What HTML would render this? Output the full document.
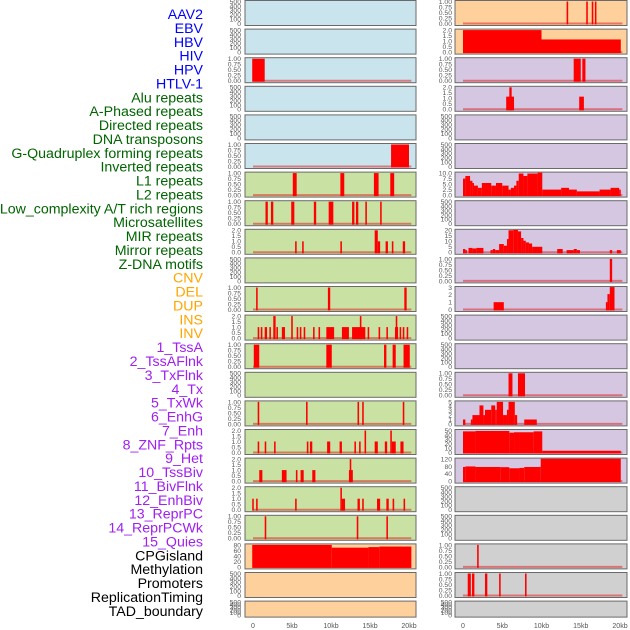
<!DOCTYPE html>
<html><head><meta charset="utf-8"><style>
body{margin:0;background:#fff;width:630px;height:630px;overflow:hidden}
svg{display:block}
</style></head><body>
<svg id="chart" width="630" height="630" xmlns="http://www.w3.org/2000/svg" font-family="Liberation Sans, sans-serif"></svg>
<script>
// ---- Row labels ----
const labels = ["AAV2","EBV","HBV","HIV","HPV","HTLV-1","Alu repeats","A-Phased repeats","Directed repeats","DNA transposons","G-Quadruplex forming repeats","Inverted repeats","L1 repeats","L2 repeats","Low_complexity A/T rich regions","Microsatellites","MIR repeats","Mirror repeats","Z-DNA motifs","CNV","DEL","DUP","INS","INV","1_TssA","2_TssAFlnk","3_TxFlnk","4_Tx","5_TxWk","6_EnhG","7_Enh","8_ZNF_Rpts","9_Het","10_TssBiv","11_BivFlnk","12_EnhBiv","13_ReprPC","14_ReprPCWk","15_Quies","CPGisland","Methylation","Promoters","ReplicationTiming","TAD_boundary"];
const labelGroups = [6,13,5,15,5];
const groupColors = ["#0000ff","#006400","#ffa500","#a020f0","#000000"];
// ---- x axis ----
const xTicks = [0,5,10,15,20];
const xTickLabels = ["0","5kb","10kb","15kb","20kb"];
// ---- y tick sets ----
const tE = ["0","100","200","300","400","500"];
const t1 = ["0.00","0.25","0.50","0.75","1.00"];
const t2 = ["0.0","0.5","1.0","1.5","2.0"];
const t10 = ["0.0","2.5","5.0","7.5","10.0"];
const t20 = ["0","5","10","15","20"];
const t3 = ["0","1","2","3"];
const t5 = ["0","1","2","3","4","5"];
const t50 = ["0","10","20","30","40","50"];
const t120 = ["0","40","80","120"];
const t80 = ["0","20","40","60","80"];
// ---- left column data: [startKb, endKb, value] ----
const L2 = [[-0.1,1.5,1]];
const L5 = [[17.7,20,1]];
const L6 = [[5.1,5.6,1],[11.2,11.7,1],[15.5,16.1,1],[17.6,18.1,1]];
const L7 = [[1.6,1.9,1],[2.3,2.6,1],[4.9,5.3,1],[7.8,8.1,1],[9.7,10.3,1],[12.7,13,1],[13.2,13.5,1],[14.4,14.6,1],[16.3,16.5,1]];
const L8 = [[5.4,5.6,1],[6.3,6.5,1],[11.2,11.4,1],[15.6,16,2],[16,16.3,1],[17,17.3,1],[17.8,18,1],[19.2,19.5,1]];
const L10 = [[0.4,0.6,1],[9.6,9.9,1],[19.4,19.7,1]];
const L11 = [[0.6,0.8,1],[1,1.2,1],[1.5,1.8,1],[2.1,2.3,1],[2.6,2.9,2],[3,3.2,1],[3.7,4.1,1],[4.9,5.1,2],[5.6,5.8,1],[6,6.2,1],[6.5,6.7,1],[7.7,7.9,1],[8.4,8.6,1],[9.4,10.4,1],[11.4,12.3,1],[12.7,14.4,1],[13.7,13.9,2],[14.7,14.9,1],[16.1,16.3,1],[17.1,17.3,1],[18.2,18.6,1],[18.3,18.5,2],[18.8,19,1],[19.2,19.4,1],[19.7,19.9,1]];
const L12 = [[0.1,0.8,1],[9.4,10.1,1],[16.8,17.1,1],[17.9,18.3,1],[19.3,20.1,1]];
const L14 = [[0.6,0.8,1],[6.8,7,1],[13.4,13.6,1],[14,14.2,1],[19.2,19.4,1]];
const L15 = [[0.6,0.8,1],[1.5,1.7,1],[2.7,2.9,1],[6.9,7.1,1],[7.3,7.6,1],[9.5,9.9,1],[11.1,11.4,1],[13,13.2,1],[13.6,13.8,1],[14.3,14.5,2],[15.6,16,1],[16.9,17.2,1],[17.6,17.8,2],[17.8,18.3,1],[18.9,19.3,1]];
const L16 = [[0.8,1.2,1],[3.7,4.3,1],[5.5,5.7,1],[6.1,6.5,1],[7.6,8,1],[12.3,12.8,1],[12.4,12.6,2]];
const L17 = [[-0.1,0.1,1],[0.4,0.6,1],[5.4,5.6,1],[11.2,11.4,2],[11.4,11.8,1],[13.4,13.7,1],[14,14.2,1],[15.9,16.3,1],[17.1,17.4,1],[17.9,18.1,1],[19.3,19.5,1]];
const L18 = [[1.5,1.7,1],[13.3,13.5,1],[17.1,17.3,1]];
const L19 = [[-0.1,10.1,80],[10.1,14.8,70],[14.8,16.2,72],[16.2,20.3,74]];
// ---- right column data ----
const R0 = [[13.2,13.4,1],[15.7,15.9,1],[16.4,16.6,1],[16.8,17,1]];
const R1 = [[0,10,2],[10,20.1,1.15]];
const R2 = [[14.1,15,1],[15.2,15.6,1]];
const R3 = [[5.5,6.5,1.15],[5.9,6.2,2],[14.8,15.4,1.15]];
const R6 = [[0,0.3,7.5],[0.3,0.9,8.7],[0.9,1.2,6.5],[1.2,1.4,5.5],[1.4,1.9,4.3],[1.9,2.4,3.3],[2.4,3.6,5.5],[3.6,4.2,4.3],[4.2,5,5.5],[5,5.8,4.3],[5.8,6.1,2.5],[6.1,6.5,3.3],[6.5,6.8,4.3],[6.8,7.1,6.5],[7.1,7.7,9.8],[7.7,8.2,8.7],[8.2,9.5,9.8],[9.5,10.1,10.3],[10.1,12.5,2.5],[12.5,13.5,3.3],[13.5,14.5,2.5],[14.5,17.4,1.7],[17.4,18.8,2.5],[18.8,19.9,3.3],[19.9,20.1,2.5]];
const R8 = [[0,0.3,3],[0.3,0.5,2],[0.7,1.2,4],[1.2,1.7,3.5],[1.7,2.6,4],[3.5,3.8,2],[3.8,4.1,3],[4.1,4.6,2],[4.6,5.2,7.5],[5.2,5.6,6],[5.6,5.8,12],[5.8,6.4,20],[6.4,7,21],[7,7.4,19],[7.4,7.7,13],[7.7,8,10.5],[8,8.4,9],[8.4,8.8,8],[8.8,10.1,5],[12,12.7,3],[13.2,14.1,2],[14.1,14.5,3],[14.5,14.9,2],[18.7,19,2],[19.6,20.1,2]];
const R9 = [[18.7,19,1]];
const R10 = [[3.9,5.2,1],[18.2,18.4,1],[18.4,18.7,2.1],[18.7,19.3,3.1]];
const R13 = [[5.8,6.3,1],[7,7.9,1]];
const R14 = [[0,0.3,1],[1,1.2,1],[1.2,2.1,2],[2.1,2.6,4.2],[2.6,2.8,2],[2.8,3.6,3.2],[3.6,4.1,4.2],[4.1,4.3,3.2],[4.3,5.1,5],[5.1,5.6,2],[5.6,5.8,3.2],[5.8,6.6,5],[6.6,6.9,2],[7.8,9.4,1]];
const R15 = [[0,1.6,48],[1.6,5.9,49],[5.9,6.5,45],[6.5,7.2,46],[7.2,9,46],[9,10.1,48],[10.1,20.1,4]];
const R16 = [[0,0.3,77],[0.3,1.6,80],[1.6,4.8,77],[4.8,5.9,76],[5.9,7.2,70],[7.2,7.8,72],[7.8,9.9,77],[9.9,20.1,122]];
const R19 = [[1.8,2,1]];
const R20 = [[0.6,1,1],[1.15,1.45,1],[2.8,3.1,1],[4.6,4.8,1],[7.9,8.1,1]];

const BLUE="#c9e4ec",GREEN="#c9e1a3",PEACH="#fed09c",LAV="#d5c6e2",GRAY="#d0d0d0";
const leftRows = [
 [BLUE,tE,500,null],[BLUE,tE,500,null],[BLUE,t1,1,L2],[BLUE,tE,500,null],[BLUE,tE,500,null],[BLUE,t1,1,L5],
 [GREEN,t1,1,L6],[GREEN,t1,1,L7],[GREEN,t2,2,L8],[GREEN,tE,500,null],[GREEN,t1,1,L10],[GREEN,t2,2,L11],
 [GREEN,t1,1,L12],[GREEN,tE,500,null],[GREEN,t1,1,L14],[GREEN,t2,2,L15],[GREEN,t2,2,L16],[GREEN,t2,2,L17],
 [GREEN,t1,1,L18],[PEACH,t80,80,L19],[PEACH,tE,500,null],[PEACH,tE,500,null]];
const rightRows = [
 [PEACH,t1,1,R0],[PEACH,t2,2,R1],[LAV,t1,1,R2],[LAV,t2,2,R3],[LAV,tE,500,null],[LAV,tE,500,null],
 [LAV,t10,10,R6],[LAV,tE,500,null],[LAV,t20,20,R8],[LAV,t1,1,R9],[LAV,t3,3,R10],[LAV,tE,500,null],
 [LAV,tE,500,null],[LAV,t1,1,R13],[LAV,t5,5,R14],[LAV,t50,50,R15],[LAV,t120,120,R16],[GRAY,tE,500,null],
 [GRAY,tE,500,null],[GRAY,t1,1,R19],[GRAY,t1,1,R20],[GRAY,tE,500,null]];

const svg=document.getElementById('chart');
const NS="http://www.w3.org/2000/svg";
function mk(tag,attrs,parent){const e=document.createElementNS(NS,tag);for(const k in attrs)e.setAttribute(k,attrs[k]);(parent||svg).appendChild(e);return e;}

// labels
let li=0;
labelGroups.forEach((n,g)=>{for(let i=0;i<n;i++){
 const t=mk('text',{x:203,y:19+li*13.88,'text-anchor':'end','font-size':'14.2',fill:groupColors[g]});
 t.textContent=labels[li];
 
 
 li++;}});

const cols=[{x0:245,x1:416,z:253,k:7.8,tx:241,rows:leftRows,name:'left'},{x0:455,x1:627,z:463,k:7.85,tx:452,rows:rightRows,name:'right'}];
cols.forEach(c=>{
 const xs=v=>c.z+v*c.k;
 c.rows.forEach((r,i)=>{
  const top=i*28.6+0.5, h=(i==21)?16:25, bot=top+h;
  const [bg,ticks,max,data]=r;
  const g=mk('g',{});
  
  
  mk('rect',{x:c.x0,y:top,width:c.x1-c.x0,height:h,fill:bg,stroke:'#6a6a6a','stroke-width':1},g);
  const ys=v=>bot-2-v/max*(h-3);
  ticks.forEach(tl=>{
   const t=mk('text',{x:c.tx,y:ys(parseFloat(tl))+2.4,'text-anchor':'end','font-size':'6.8',fill:'#5a5a5a'},g);
   t.textContent=tl;
   
   
  });
  if(data){
   mk('line',{x1:xs(0),x2:xs(20.3),y1:ys(0),y2:ys(0),stroke:'rgba(220,40,40,0.55)','stroke-width':2},g);
   data.forEach(d=>{
    const v=Math.min(d[2],max*1.02);
    const b=mk('rect',{x:xs(d[0]),y:ys(v),width:Math.max(1.5,xs(d[1])-xs(d[0])),height:ys(0)-ys(v)+1,fill:'#ff0000'},g);
    
    
   });
  }
 });
 xTicks.forEach((v,j)=>{
  const t=mk('text',{x:xs(v),y:628,'text-anchor':'middle','font-size':'7',fill:'#555'});
  t.textContent=xTickLabels[j];
  
  
 });
});
</script>
</body></html>
